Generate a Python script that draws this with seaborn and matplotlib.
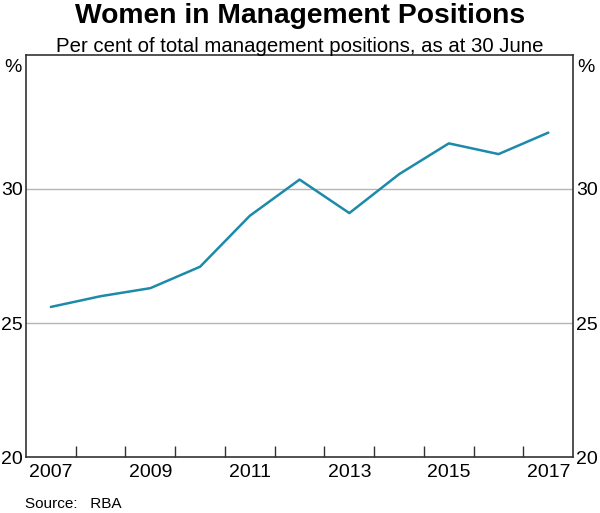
import numpy as np
import pandas as pd
import matplotlib
matplotlib.use("Agg")
import matplotlib.pyplot as plt
import seaborn as sns

# Women in management positions, per cent, as at 30 June each year
years = [2007, 2008, 2009, 2010, 2011, 2012, 2013, 2014, 2015, 2016, 2017]
share = [25.6, 26.0, 26.3, 27.1, 29.0, 30.35, 29.1, 30.55, 31.7, 31.3, 32.1]

label_years = [2007, 2009, 2011, 2013, 2015, 2017]
y_ticks = [20, 25, 30]

line_colour = "#1c8aa8"

sns.set_theme(style="white")
plt.rcParams["font.family"] = ["Liberation Sans", "DejaVu Sans"]
plt.rcParams["text.color"] = "black"

df = pd.DataFrame({"year": years, "share": share})
# observations are taken mid-year (30 June)
df["pos"] = df["year"] + 0.5

fig = plt.figure(figsize=(6.0, 5.13), dpi=100)
ax = fig.add_axes([0.0433, 0.109, 0.912, 0.784])

sns.lineplot(data=df, x="pos", y="share", color=line_colour, lw=1.8, ax=ax)

ax.set_xlim(years[0], years[-1] + 1)
ax.set_ylim(20, 35)

# year labels at mid-year, tick marks at year boundaries
ax.set_xticks([y + 0.5 for y in label_years])
ax.set_xticklabels([str(y) for y in label_years])
ax.set_xticks(years[1:], minor=True)
ax.tick_params(axis="x", which="major", length=0, pad=5, labelsize=14, colors="black")
ax.tick_params(axis="x", which="minor", direction="in", length=8, width=1, color="#333333", bottom=True)

ax.set_yticks(y_ticks)
ax.set_yticklabels([str(v) for v in y_ticks])
ax.tick_params(axis="y", which="major", length=0, pad=2, labelsize=14, colors="black",
               left=True, right=True, labelleft=True, labelright=True)
for v in y_ticks[1:]:
    ax.axhline(v, color="#b5b5b5", lw=1, zorder=0)

for side in ["left", "right", "top", "bottom"]:
    ax.spines[side].set_visible(True)
    ax.spines[side].set_color("#333333")
    ax.spines[side].set_linewidth(1.2)

ax.set_xlabel("")
ax.set_ylabel("")

ax.text(-0.008, 0.99, "%", transform=ax.transAxes, ha="right", va="top", fontsize=14)
ax.text(1.008, 0.99, "%", transform=ax.transAxes, ha="left", va="top", fontsize=14)

fig.text(0.5, 0.994, "Women in Management Positions", ha="center", va="top",
         fontsize=20.3, fontweight="bold")
fig.text(0.5, 0.927, "Per cent of total management positions, as at 30 June", ha="center",
         va="top", fontsize=14.7)
fig.text(0.042, 0.004, "Source:   RBA", ha="left", va="bottom", fontsize=11)

fig.savefig("out.png", dpi=100)
